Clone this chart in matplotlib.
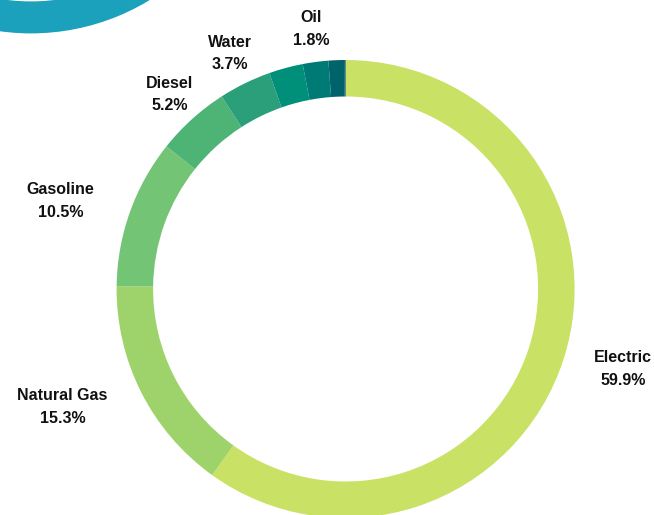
import numpy as np
import matplotlib.pyplot as plt
from matplotlib.patches import Wedge

# share of vehicles / energy source (percent), clockwise from 12 o'clock
names = ['Electric', 'Natural Gas', 'Gasoline', 'Diesel', 'Water', '', 'Oil', '', '']
shares = [59.9, 15.3, 10.5, 5.2, 3.7, 2.4, 1.8, 1.1, 0.1]
colors = ['#C9E265', '#9DD36A', '#74C476', '#4DB476', '#2A9F7A',
          '#00907A', '#007A74', '#00626B', '#004D5A']

W, H = 654, 515
fig = plt.figure(figsize=(W / 100, H / 100), dpi=100)
ax = fig.add_axes([0, 0, 1, 1])

# pixel-like coordinates, y measured from bottom
cx, cy = 345.6, H - 289
R = 229
ring = 36.5

wedges, _ = ax.pie(shares, colors=colors, startangle=90, counterclock=False,
                   radius=R, center=(cx, cy),
                   wedgeprops=dict(width=ring, linewidth=0, antialiased=True))

# decorative ring in the top left corner
ax.add_patch(Wedge((31, H + 194.6), 228, 0, 360, width=32, color='#1BA1BB', lw=0))

# labels
label_r = R * 1.145
for w, name, val in zip(wedges, names, shares):
    if not name:
        continue
    ang = np.deg2rad((w.theta1 + w.theta2) / 2)
    x = cx + label_r * np.cos(ang)
    y = cy + label_r * np.sin(ang)
    c = np.cos(ang)
    if c > 0.8:
        ha = 'left'
        x -= 1
    elif c < -0.8:
        ha = 'right'
        x -= 4
    else:
        ha = 'center'
    ax.text(x, y, f'{name}\n{val}%', ha=ha, va='center', multialignment='center',
            fontsize=11.5, fontweight='bold', family='Liberation Sans',
            color='#111111', linespacing=1.65)

ax.set_xlim(0, W)
ax.set_ylim(0, H)
ax.set_aspect('equal')
ax.axis('off')

fig.savefig('out.png', dpi=100)
